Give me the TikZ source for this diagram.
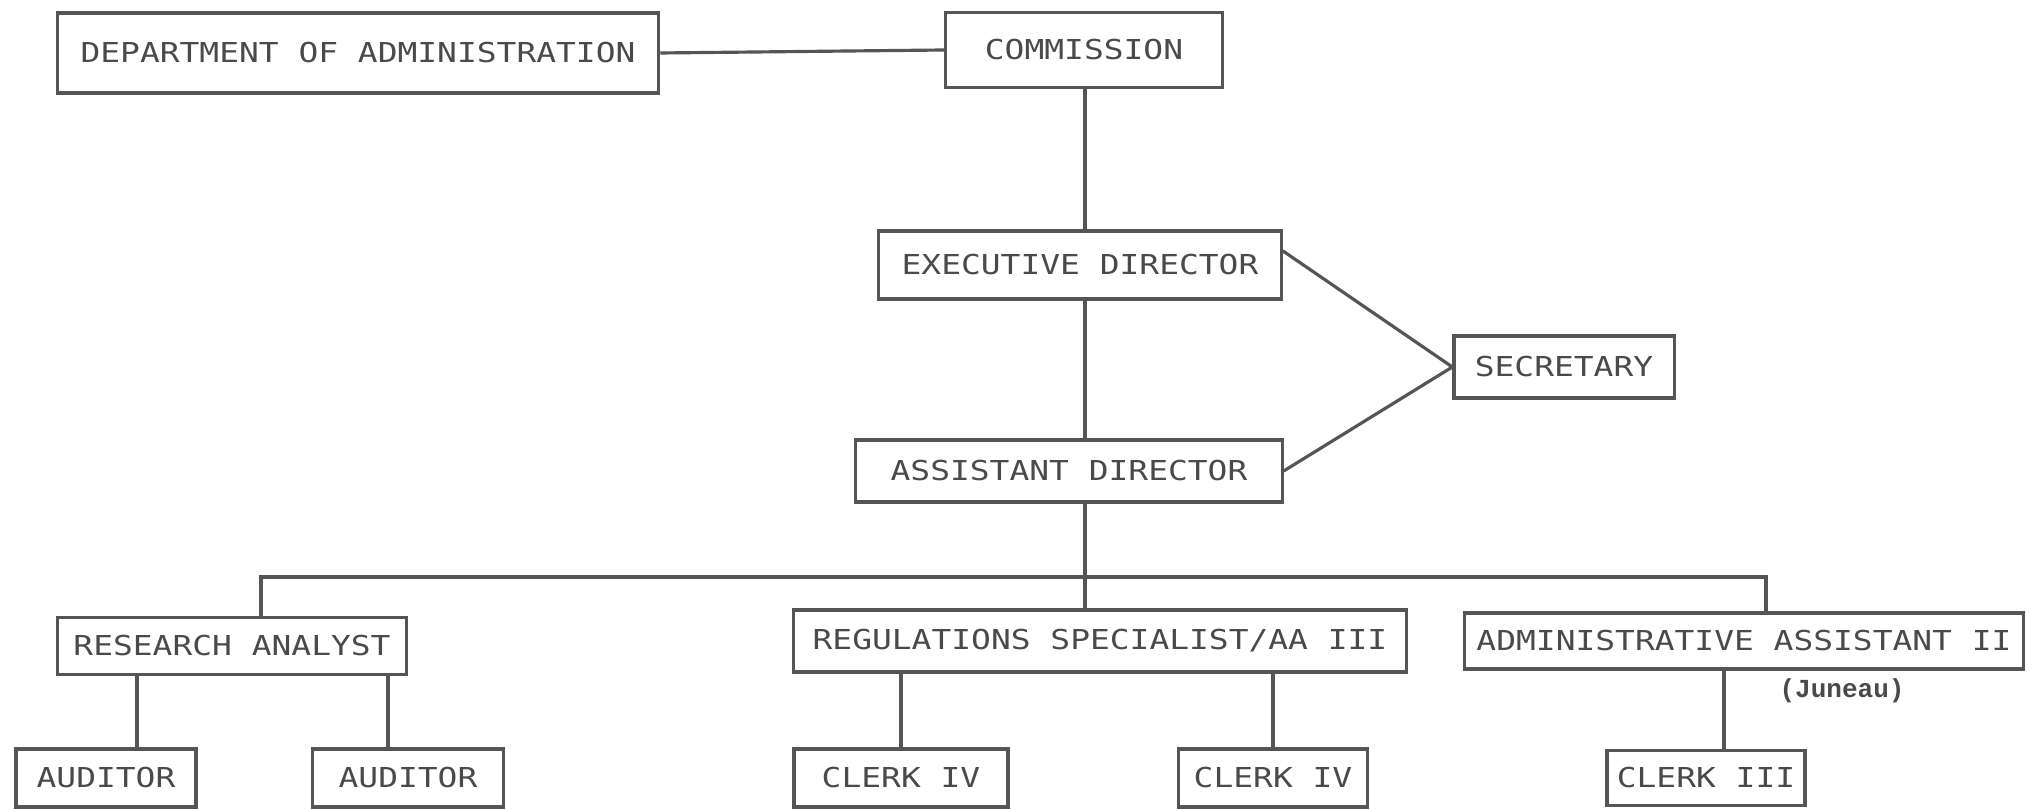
\documentclass[tikz,border=0pt]{standalone}
\usepackage{fontspec}
\usepackage{tikz}
\usetikzlibrary{positioning}
\newfontfamily\typer[FakeStretch=1.2]{DejaVu Sans Mono}
\newfontfamily\placefont{Liberation Mono}
\definecolor{inkgray}{HTML}{4A4A4A}
\definecolor{linegray}{HTML}{555555}

\begin{document}
\begin{tikzpicture}[
  x=0.01cm, y=-0.01cm,
  post/.style={rectangle, draw=linegray, line width=0.9pt, inner sep=0pt,
               minimum height=0.62cm, align=center,
               font=\typer\fontsize{7.8pt}{9pt}\selectfont\color{inkgray}},
  link/.style={draw=linegray, line width=0.9pt},
  note/.style={inner sep=0pt, font=\placefont\bfseries\fontsize{7.4pt}{8pt}\selectfont\color{inkgray}}
]
  \useasboundingbox (0,0) rectangle (2027,810);

  \node[post, minimum width=6.01cm, minimum height=0.80cm] (dept) at (358,53) {DEPARTMENT OF ADMINISTRATION};
  \node[post, minimum width=2.77cm, minimum height=0.75cm] (comm) at (1084,50) {COMMISSION};
  \node[post, minimum width=4.02cm, minimum height=0.68cm] (exec) at (1080,265) {EXECUTIVE DIRECTOR};
  \node[post, minimum width=2.20cm] (sec) at (1564,367) {SECRETARY};
  \node[post, minimum width=4.26cm] (asst) at (1069,471) {ASSISTANT DIRECTOR};

  \node[post, minimum width=3.49cm, minimum height=0.57cm] (ra) at (232,646) {RESEARCH ANALYST};
  \node[post, minimum width=6.12cm] (reg) at (1100,641) {REGULATIONS SPECIALIST/AA III};
  \node[post, minimum width=5.59cm, minimum height=0.56cm] (aa) at (1744,641) {ADMINISTRATIVE ASSISTANT II};
  \node[note, below=0.07cm of aa.south, xshift=0.98cm] (jun) {(Juneau)};

  \node[post, minimum width=1.80cm, minimum height=0.58cm] (aud1) at (106,778) {AUDITOR};
  \node[post, minimum width=1.91cm, minimum height=0.58cm] (aud2) at (408,778) {AUDITOR};
  \node[post, minimum width=2.14cm, minimum height=0.58cm] (clk1) at (901,778) {CLERK IV};
  \node[post, minimum width=1.89cm, minimum height=0.58cm] (clk2) at (1273,778) {CLERK IV};
  \node[post, minimum width=1.98cm, minimum height=0.55cm] (clk3) at (1706,778) {CLERK III};

  % trunk, bus and drop points
  \coordinate (trunk) at (1085,577);
  \coordinate (busL) at (261,577);
  \coordinate (busR) at (1766,577);
  \coordinate (dropA) at (137,0);
  \coordinate (dropB) at (388,0);
  \coordinate (dropC) at (1724,0);

  \draw[link] (dept.east) -- (comm.west);
  \draw[link] (trunk |- comm.south) -- (trunk |- exec.north);
  \draw[link] (trunk |- exec.south) -- (trunk |- asst.north);
  \draw[link] (trunk |- asst.south) -- (trunk) -- (trunk |- reg.north);
  \draw[link] (busL |- ra.north) -- (busL) -- (busR) -- (busR |- aa.north);

  \draw[link] (exec.4) -- (sec.west);
  \draw[link] (asst.east) -- (sec.west);

  \draw[link] (dropA |- ra.south) -- (dropA |- aud1.north);
  \draw[link] (dropB |- ra.south) -- (dropB |- aud2.north);
  \draw[link] (reg.south -| clk1.north) -- (clk1.north);
  \draw[link] (reg.south -| clk2.north) -- (clk2.north);
  \draw[link] (dropC |- aa.south) -- (dropC |- clk3.north);
\end{tikzpicture}
\end{document}
